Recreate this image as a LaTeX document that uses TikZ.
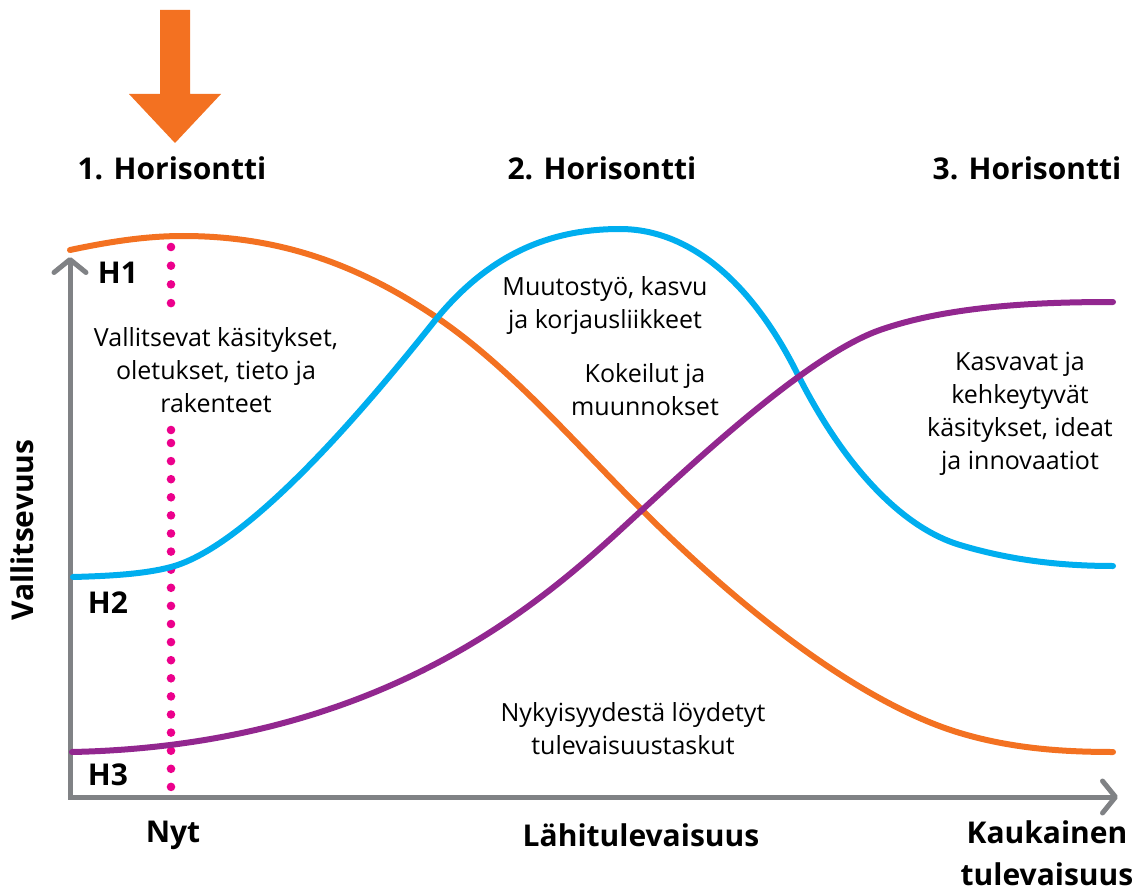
\documentclass[tikz,border=0pt]{standalone}
\usepackage{fontspec}
\setmainfont{Open Sans}
\usepackage{tikz}
\usetikzlibrary{arrows.meta}
\definecolor{horange}{RGB}{243,113,33}
\definecolor{hblue}{RGB}{0,174,239}
\definecolor{hpurple}{RGB}{146,39,143}
\definecolor{haxis}{RGB}{128,130,133}
\definecolor{hdot}{RGB}{236,0,140}
\tikzstyle{axis}=[
	draw=haxis,
	line width=5pt,
	line join=miter,
	{Straight Barb[length=13pt,width=32pt,round]}-{Straight Barb[length=13pt,width=32pt,round]}
]
\tikzstyle{hcurve}=[
	line width=6pt,
	line cap=round
]
\tikzstyle{htitle}=[
	inner sep=0pt,
	font=\bfseries\fontsize{30}{36}\selectfont
]
\tikzstyle{desc}=[
	inner sep=0pt,
	align=center,
	font=\fontsize{25}{33}\selectfont
]
\tikzstyle{hdotmark}=[
	fill=hdot
]

\begin{document}
\begin{tikzpicture}[x=1pt, y=-1pt]
\useasboundingbox (0,0) rectangle (1145,893);

\fill[horange] (160,10) -- (190,10) -- (190,94) -- (221,94) -- (175,143) -- (129,94) -- (160,94) -- cycle;

\node[htitle] (t1) at (172,168) {1. Horisontti};
\node[htitle] (t2) at (602,168) {2. Horisontti};
\node[htitle] (t3) at (1027,168) {3. Horisontti};

\coordinate (origin) at (70,797);
\coordinate (ytip) at (70,257);
\coordinate (xtip) at (1118,797);
\draw[axis] (ytip) -- (origin) -- (xtip);

\foreach \i in {0,...,3} {
    \fill[hdotmark] (171,{247+18.7*\i}) circle (4.3);
}
\fill[hdotmark] (171,430) circle (4.3);
\foreach \i in {0,...,19} {
    \fill[hdotmark] (171,{443+18.1*\i}) circle (4.3);
}

\draw[hcurve, draw=horange] (70,250) .. controls (108,242) and (145,236) .. (183,236)
    .. controls (280,236) and (358,265) .. (433,315)
    .. controls (508,365) and (572,440) .. (642,510)
    .. controls (742,610) and (860,703) .. (960,733)
    .. controls (1010,748) and (1060,752) .. (1113,752);
\draw[hcurve, draw=hblue] (73,577) .. controls (110,576) and (145,574) .. (171,567)
    .. controls (250,546) and (370,402) .. (433,323)
    .. controls (488,254) and (550,229) .. (620,229)
    .. controls (690,229) and (752,283) .. (797,373)
    .. controls (842,463) and (900,527) .. (960,545)
    .. controls (1010,560) and (1060,566) .. (1113,566);
\draw[hcurve, draw=hpurple] (72,752) .. controls (400,745) and (560,585) .. (642,510)
    .. controls (702,455) and (810,354.5) .. (880,330)
    .. controls (950,305.5) and (1040,302) .. (1113,302);

\node[htitle] (h1) at (118,273) {H1};
\node[htitle] (h2) at (108,603) {H2};
\node[htitle] (h3) at (108,775) {H3};

\node[desc] (d1) at (216,370) {Vallitsevat käsitykset,\\oletukset, tieto ja\\rakenteet};
\node[desc] (d2) at (605,306) {Muutostyö, kasvu\\ja korjausliikkeet};
\node[desc] (d3) at (645,390) {Kokeilut ja\\muunnokset};
\node[desc] (d4) at (1020,414) {Kasvavat ja\\kehkeytyvät\\käsitykset, ideat\\ja innovaatiot};
\node[desc] (d5) at (633,729) {Nykyisyydestä löydetyt\\tulevaisuustaskut};

\node[htitle, rotate=90] (yname) at (22,530) {Vallitsevuus};
\node[htitle] (nyt) at (173,835) {Nyt};
\node[htitle] (lahi) at (641,835) {Lähitulevaisuus};
\node[htitle, align=center, font=\bfseries\fontsize{30}{42}\selectfont] (kauka) at (1047,853) {Kaukainen\\tulevaisuus};
\end{tikzpicture}
\end{document}
